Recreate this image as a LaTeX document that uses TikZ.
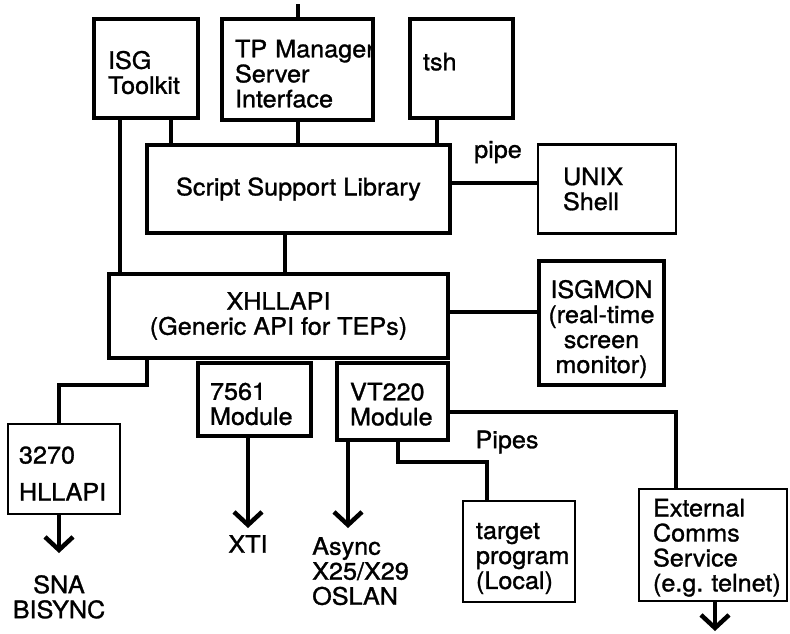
\documentclass[tikz,border=0pt]{standalone}
\usepackage{fontspec}
\setmainfont{TeX Gyre Heros}[FakeStretch=1.05, FakeBold=1.2]
\usetikzlibrary{arrows.meta, positioning}
\newcommand{\diagfont}{\fontsize{24pt}{25pt}\selectfont\hyphenpenalty=10000}
\newcommand{\sinkby}[1]{\rule{0pt}{#1}}
\tikzstyle{module} = [
    rectangle, draw=black, line width=4.5pt, outer sep=0pt,
    inner sep=0pt, align=left, font=\diagfont
]
\tikzstyle{thinmodule} = [module, line width=2.8pt]
\tikzstyle{txt} = [inner sep=0pt, align=left, font=\diagfont]
\tikzstyle{link} = [line width=4.5pt]
\tikzstyle{arrow} = [line width=4.5pt, -{Straight Barb[length=13pt, width=28pt]}]

\begin{document}
\begin{tikzpicture}[x=1pt, y=-1pt]
    \useasboundingbox (0,0) rectangle (790,633);
    % Nodes
    \node[module, text width=76pt, inner xsep=14pt, minimum height=99pt] (isg) at (146,68.5) {\sinkby{26pt}ISG\\Toolkit};
    \node[module, text width=125pt, inner xsep=13pt, minimum height=101pt] (tp) at (297.5,69.5) {\sinkby{26pt}TP~Manager\\Server\\Interface};
    \node[module, text width=77pt, inner xsep=13pt, minimum height=99pt, text depth=14pt] (tsh) at (461.5,68.5) {tsh};
    \node[module, align=center, minimum width=303pt, minimum height=88pt] (ssl) at (298.5,189) {Script Support Library};
    \node[thinmodule, text width=88pt, inner xsep=25pt, minimum height=89pt, right=88pt of ssl] (unix) {UNIX\\Shell};
    \node[module, align=center, minimum width=339pt, minimum height=84pt] (xhl) at (278.5,316) {XHLLAPI\\(Generic API for TEPs)};
    \node[module, align=center, minimum width=125pt, minimum height=124pt] (isgmon) at (601.5,323) {\sinkby{30pt}ISGMON\\(real-time\\screen\\monitor)};
    \node[module, text width=89pt, inner xsep=12pt, minimum height=73pt] (m7561) at (254.5,399.5) {\sinkby{26pt}7561\\Module};
    \node[module, text width=85pt, inner xsep=13pt, minimum height=77pt] (vt) at (392.5,401.5) {\sinkby{23pt}VT220\\Module};
    \node[thinmodule, text width=90pt, inner xsep=11pt, minimum height=90pt] (h3270) at (64,469) {\sinkby{26pt}3270\\[12pt]HLLAPI};
    \node[thinmodule, text width=86pt, inner xsep=13pt, minimum height=101pt] (target) at (519,551.5) {\sinkby{30pt}target\\program\\(Local)};
    \node[thinmodule, text width=120pt, inner xsep=14pt, minimum height=112pt] (ext) at (713,545) {\sinkby{23pt}External\\Comms\\Service\\(e.g.~telnet)};
    \node[txt] (pipe) at (498,152) {pipe};
    \node[txt] (pipes) at (507,442) {Pipes};
    \node[txt, anchor=north] (xti) at (248,535) {XTI};
    \node[txt, anchor=north west] (async) at (312,537) {Async\\X25/X29\\OSLAN};
    \node[txt, align=center, anchor=north] (sna) at (59,575) {SNA\\BISYNC};
    \coordinate (tpin) at (298,4);
    \coordinate (extout) at (715,631);
    % Links
    \draw[link] (tp.north -| tpin) -- (tpin);
    \draw[link] ([xshift=26]isg.south west) -- ([xshift=26]isg.south west |- xhl.north);
    \draw[link] ([xshift=77]isg.south west) -- ([xshift=77]isg.south west |- ssl.north);
    \draw[link] (tp.south -| tpin) -- (ssl.north -| tpin);
    \draw[link] ([xshift=27]tsh.south west) -- ([xshift=27]tsh.south west |- ssl.north);
    \draw[link] ([yshift=6]ssl.east) -- ([yshift=6]ssl.east -| unix.west);
    \draw[link] ([xshift=-13.5]ssl.south) -- ([xshift=-13.5]ssl.south |- xhl.north);
    \draw[link] ([yshift=4]xhl.east) -- ([yshift=4]xhl.east -| isgmon.west);
    \draw[link] ([xshift=38]xhl.south west) -- ++(0,27) -| (h3270.north -| sna.north);
    \draw[link] ([yshift=-10.5]vt.east) -| ([xshift=-37]ext.north);
    \draw[link] ([xshift=5.5]vt.south) -- ++(0,22) -| ([xshift=-32]target.north);
    % Arrows
    \draw[arrow, shorten >=7pt] (m7561.south -| xti.north) -- (xti.north);
    \draw[arrow, shorten >=9pt] ([xshift=-44.5]vt.south) -- ([xshift=-44.5]vt.south |- async.north);
    \draw[arrow, shorten >=22pt] (h3270.south -| sna.north) -- (sna.north);
    \draw[arrow] (ext.south -| extout) -- (extout);
\end{tikzpicture}
\end{document}
